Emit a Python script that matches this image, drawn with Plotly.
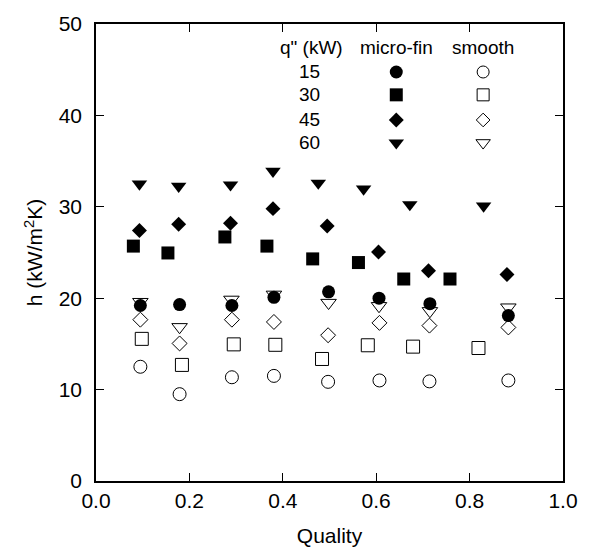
import plotly.graph_objects as go

# micro-fin: quality, h
mf_q = {
    "15": ([0.095, 0.179, 0.291, 0.381, 0.498, 0.606, 0.715, 0.883],
           [19.2, 19.3, 19.2, 20.1, 20.7, 20.0, 19.4, 18.1]),
    "30": ([0.080, 0.154, 0.276, 0.366, 0.464, 0.562, 0.659, 0.758],
           [25.7, 24.95, 26.7, 25.7, 24.3, 23.9, 22.1, 22.1]),
    "45": ([0.093, 0.177, 0.288, 0.379, 0.495, 0.605, 0.712, 0.880],
           [27.4, 28.1, 28.2, 29.8, 27.9, 25.05, 23.0, 22.6]),
    "60": ([0.093, 0.177, 0.288, 0.379, 0.476, 0.573, 0.672, 0.830],
           [32.5, 32.25, 32.4, 33.9, 32.6, 31.95, 30.25, 30.1]),
}
# smooth: quality, h
sm_q = {
    "15": ([0.095, 0.179, 0.291, 0.381, 0.497, 0.607, 0.714, 0.883],
           [12.5, 9.5, 11.35, 11.5, 10.85, 11.0, 10.9, 11.0]),
    "30": ([0.098, 0.184, 0.295, 0.384, 0.484, 0.582, 0.679, 0.819],
           [15.55, 12.7, 14.95, 14.9, 13.35, 14.85, 14.7, 14.55]),
    "45": ([0.095, 0.179, 0.291, 0.381, 0.497, 0.607, 0.714, 0.883],
           [17.65, 15.05, 17.65, 17.4, 15.95, 17.3, 17.0, 16.8]),
    "60": ([0.095, 0.179, 0.290, 0.381, 0.498, 0.606, 0.715, 0.883],
           [19.6, 16.85, 19.85, 20.4, 19.5, 19.15, 18.6, 19.0]),
}
heat_flux = ["15", "30", "45", "60"]
filled_symbols = ["circle", "square", "diamond", "triangle-down"]
open_symbols = ["circle-open", "square-open", "diamond-open", "triangle-down-open"]
sizes = [13, 13, 11.5, 13.5]

# legend layout (paper-fraction positions)
leg_rows = [0.895, 0.845, 0.790, 0.740]
leg_col_num = 0.485
leg_col_mf = 0.643
leg_col_sm = 0.829
leg_header_y = 0.949

fig = go.Figure()
for i, q in enumerate(heat_flux):
    x, y = sm_q[q]
    fig.add_trace(go.Scatter(x=x, y=y, mode="markers", showlegend=False,
                             marker=dict(symbol=open_symbols[i], size=sizes[i], color="black",
                                         line=dict(width=1, color="black"))))
for i, q in enumerate(heat_flux):
    x, y = mf_q[q]
    fig.add_trace(go.Scatter(x=x, y=y, mode="markers", showlegend=False,
                             marker=dict(symbol=filled_symbols[i], size=sizes[i], color="black")))

# legend keys on overlay axes
for i, q in enumerate(heat_flux):
    fig.add_trace(go.Scatter(x=[leg_col_mf], y=[leg_rows[i]], xaxis="x2", yaxis="y2",
                             mode="markers", showlegend=False, hoverinfo="skip",
                             marker=dict(symbol=filled_symbols[i], size=sizes[i], color="black")))
    fig.add_trace(go.Scatter(x=[leg_col_sm], y=[leg_rows[i]], xaxis="x2", yaxis="y2",
                             mode="markers", showlegend=False, hoverinfo="skip",
                             marker=dict(symbol=open_symbols[i], size=sizes[i] - 1, color="black",
                                         line=dict(width=1, color="black"))))

font_fam = "Liberation Sans, Arial, sans-serif"
ann = [
    dict(x=0.461, y=leg_header_y, text='q" (kW)'),
    dict(x=leg_col_mf, y=leg_header_y, text="micro-fin"),
    dict(x=leg_col_sm, y=leg_header_y, text="smooth"),
]
annotations = []
for a in ann:
    annotations.append(dict(xref="paper", yref="paper", showarrow=False,
                            xanchor="center", yanchor="middle",
                            font=dict(family=font_fam, size=19, color="black"), **a))
for i, q in enumerate(heat_flux):
    annotations.append(dict(xref="paper", yref="paper", showarrow=False,
                            x=leg_col_num, y=leg_rows[i], text=q,
                            xanchor="right", yanchor="middle",
                            font=dict(family=font_fam, size=19, color="black")))

axis_common = dict(showline=True, linecolor="black", linewidth=1.5, mirror="ticks",
                   ticks="inside", ticklen=8, tickwidth=1, tickcolor="black",
                   showgrid=False, zeroline=False,
                   tickfont=dict(family=font_fam, size=21, color="black"))

fig.update_layout(
    width=592, height=556,
    margin=dict(l=96, r=29, t=16, b=73),
    paper_bgcolor="white", plot_bgcolor="white",
    font=dict(family=font_fam, color="black"),
    xaxis=dict(range=[0, 1], tickvals=[0, 0.2, 0.4, 0.6, 0.8, 1.0],
               ticktext=["0.0", "0.2", "0.4", "0.6", "0.8", "1.0"],
               title=dict(text="Quality", font=dict(family=font_fam, size=21), standoff=17),
               **axis_common),
    yaxis=dict(range=[0, 50], tickvals=[0, 10, 20, 30, 40, 50],
               ticklabelstandoff=8,
               title=dict(text="h (kW/m<sup>2</sup>K)", font=dict(family=font_fam, size=21), standoff=10),
               **axis_common),
    xaxis2=dict(range=[0, 1], overlaying="x", visible=False, fixedrange=True),
    yaxis2=dict(range=[0, 1], overlaying="y", visible=False, fixedrange=True),
    annotations=annotations,
)

fig.write_html("out.html")
